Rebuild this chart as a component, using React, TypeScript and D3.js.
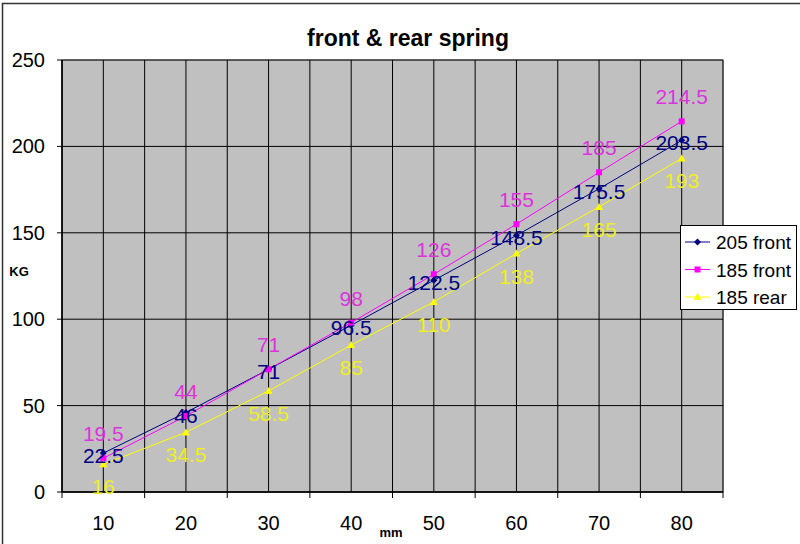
import React from "react";
import * as d3 from "d3";

const categories = ["10", "20", "30", "40", "50", "60", "70", "80"];
const front205 = [22.5, 46, 71, 96.5, 122.5, 148.5, 175.5, 203.5];
const front185 = [19.5, 44, 71, 98, 126, 155, 185, 214.5];
const rear185 = [16, 34.5, 58.5, 85, 110, 138, 165, 193];
const yTicks = [0, 50, 100, 150, 200, 250];
const seriesNames = ["205 front", "185 front", "185 rear"];

const W = 800, H = 544;
const plot = { left: 62, top: 60, right: 723, bottom: 492 };
const FONT = "Liberation Sans, Arial, sans-serif";

export default function App() {
  const x = d3.scaleBand<string>().domain(categories).range([plot.left, plot.right]).padding(0);
  const y = d3.scaleLinear().domain([0, 250]).range([plot.bottom, plot.top]);
  const cx = (c: string) => (x(c) ?? 0) + x.bandwidth() / 2;
  const line = d3.line<number>().x((_, i) => cx(categories[i])).y((d) => y(d));

  const series = [
    { name: seriesNames[0], data: front205, color: "#000080", label: "#000080", marker: "diamond", dy: 10 },
    { name: seriesNames[1], data: front185, color: "#FF00FF", label: "#DD33DD", marker: "square", dy: -17 },
    { name: seriesNames[2], data: rear185, color: "#FFFF00", label: "#EEEE22", marker: "triangle", dy: 30 },
  ];

  const marker = (type: string, px: number, py: number, color: string, key: string) => {
    if (type === "diamond") {
      return <path key={key} d={`M${px},${py - 3.5}L${px + 3.5},${py}L${px},${py + 3.5}L${px - 3.5},${py}Z`} fill={color} />;
    }
    if (type === "square") {
      return <rect key={key} x={px - 3} y={py - 3} width={6} height={6} fill={color} />;
    }
    return <path key={key} d={`M${px},${py - 4}L${px + 4},${py + 3}L${px - 4},${py + 3}Z`} fill={color} />;
  };

  const gridXs: number[] = [];
  categories.forEach((c) => {
    gridXs.push(x(c) ?? 0);
    gridXs.push(cx(c));
  });
  gridXs.push(plot.right);

  return (
    <svg width={W} height={H} style={{ position: "absolute", left: 0, top: 0 }} fontFamily={FONT}>
      <rect x={0} y={0} width={W} height={H} fill="#fff" />
      <rect x={2.5} y={3.5} width={W + 10} height={H + 10} fill="none" stroke="#333" strokeWidth={1.5} />
      <text x={408} y={46} textAnchor="middle" fontSize={23} fontWeight="bold">front &amp; rear spring</text>

      <rect x={plot.left} y={plot.top} width={plot.right - plot.left} height={plot.bottom - plot.top} fill="#C0C0C0" stroke="#808080" />
      {yTicks.map((t) => (
        <line key={"gy" + t} x1={plot.left - 5} x2={plot.right} y1={y(t)} y2={y(t)} stroke="#000" strokeWidth={1} />
      ))}
      {gridXs.map((gx, i) => (
        <line key={"gx" + i} x1={gx} x2={gx} y1={plot.top} y2={plot.bottom} stroke="#000" strokeWidth={1} />
      ))}
      <line x1={plot.left} x2={plot.right} y1={plot.bottom} y2={plot.bottom} stroke="#000" strokeWidth={1.5} />
      <line x1={plot.left} x2={plot.left} y1={plot.top} y2={plot.bottom} stroke="#000" strokeWidth={1.5} />
      {categories.map((c) => (
        <line key={"tk" + c} x1={x(c)} x2={x(c)} y1={plot.bottom} y2={plot.bottom + 6} stroke="#000" />
      ))}
      <line x1={plot.right} x2={plot.right} y1={plot.bottom} y2={plot.bottom + 6} stroke="#000" />

      {yTicks.map((t) => (
        <text key={"yl" + t} x={45} y={y(t) + 7} textAnchor="end" fontSize={20}>{t}</text>
      ))}
      {categories.map((c) => (
        <text key={"xl" + c} x={cx(c)} y={530} textAnchor="middle" fontSize={20}>{c}</text>
      ))}
      <text x={19} y={276} textAnchor="middle" fontSize={13} fontWeight="bold">KG</text>
      <text x={391} y={537} textAnchor="middle" fontSize={13} fontWeight="bold">mm</text>

      {series.map((s) => (
        <g key={s.name}>
          <path d={line(s.data) ?? ""} fill="none" stroke={s.color} strokeWidth={1} />
          {s.data.map((v, i) => marker(s.marker, cx(categories[i]), y(v), s.color, s.name + i))}
        </g>
      ))}
      {series.map((s) => (
        <g key={"lbl" + s.name}>
          {s.data.map((v, i) => (
            <text key={i} x={cx(categories[i])} y={y(v) + s.dy} textAnchor="middle" fontSize={21} fill={s.label}>{v}</text>
          ))}
        </g>
      ))}

      <rect x={680.5} y={225.5} width={116} height={84} fill="#fff" stroke="#000" />
      {series.map((s, i) => {
        const ly = 242 + i * 27.5;
        return (
          <g key={"lg" + s.name}>
            <line x1={685} x2={710} y1={ly} y2={ly} stroke={s.color} />
            {marker(s.marker, 697.5, ly, s.color, "lm" + i)}
            <text x={716} y={ly + 7} fontSize={19}>{s.name}</text>
          </g>
        );
      })}
    </svg>
  );
}
